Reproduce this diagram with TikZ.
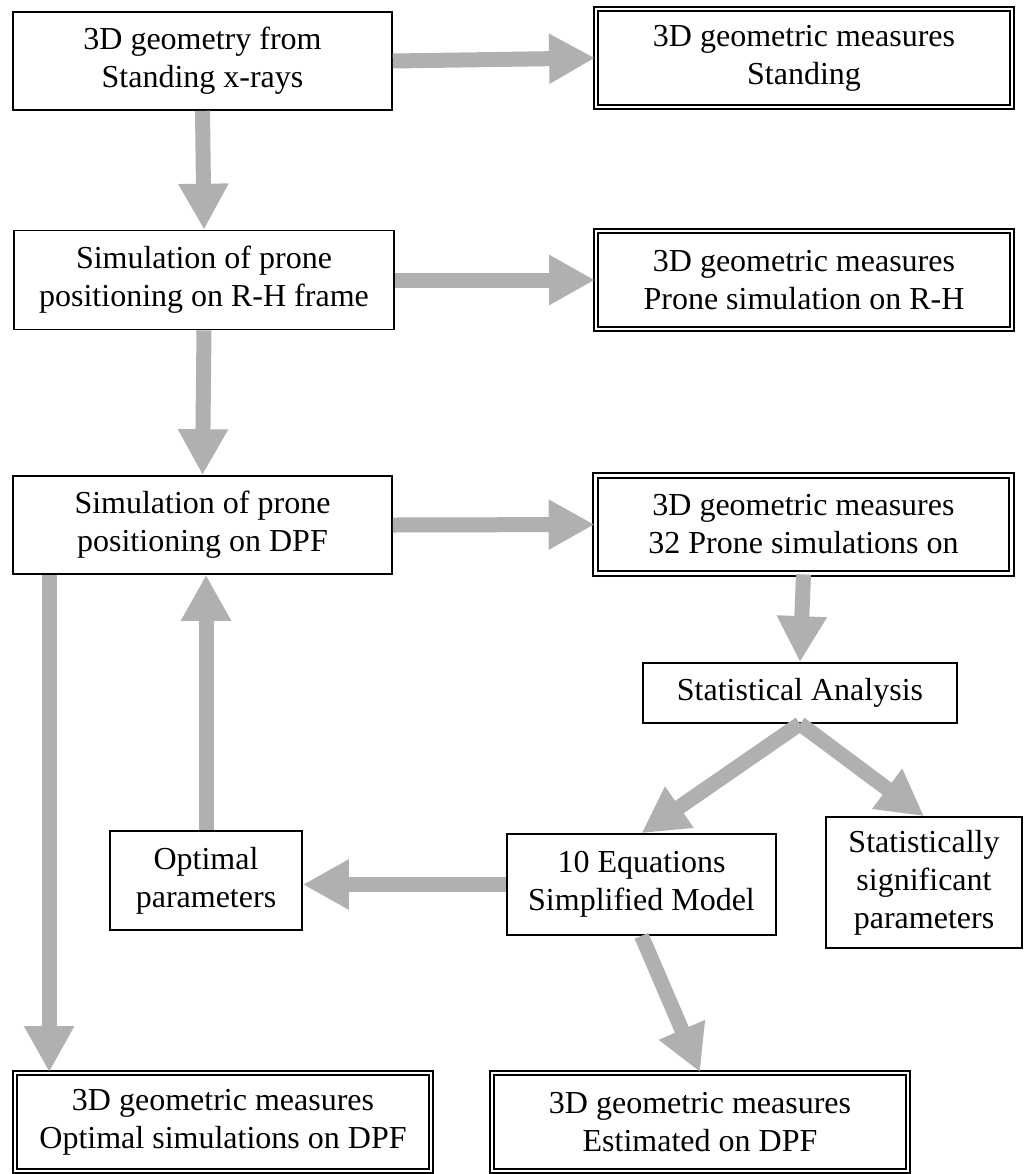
\documentclass[tikz,border=0pt]{standalone}
\usepackage{fontspec}
\setmainfont{Liberation Serif}
\usetikzlibrary{arrows.meta}

\tikzset{
  stepbox/.style={draw, line width=0.8pt, align=center, inner sep=0pt,
    font=\fontsize{16}{19}\selectfont},
  measurebox/.style={stepbox, double, double distance=1.3pt, line width=0.9pt,
    minimum width=208pt, minimum height=49pt},
  flowarrow/.style={line width=7.5pt, draw=gray!62,
    -{Triangle[width=23.5pt,length=23pt]}}
}

\begin{document}
\begin{tikzpicture}[x=0.5pt, y=-0.5pt]
      \useasboundingbox (0,0) rectangle (1028,1174);

      % Draw the left column of processing steps
      \node[stepbox, minimum width=189.5pt, minimum height=49pt] (geom) at (202.5,61)
        {3D geometry from\\Standing x-rays};
      \node[stepbox, minimum width=190pt, minimum height=49.5pt] (simrh) at (204,280)
        {Simulation of prone\\positioning on R-H frame};
      \node[stepbox, minimum width=189.5pt, minimum height=49pt] (simdpf) at (202.5,525)
        {Simulation of prone\\positioning on DPF};
      \node[stepbox, minimum width=96pt, minimum height=49.5pt] (optimal) at (206,880.5)
        {Optimal\\parameters};

      % Draw the measure boxes (double border)
      \node[measurebox] (standing) at (804,58) {3D geometric measures\\Standing};
      \node[measurebox] (measrh) at (804,280) {3D geometric measures\\Prone simulation on R-H};
      \node[measurebox] (measdpf) at (803.5,524.5) {3D geometric measures\\32 Prone simulations on};
      \node[measurebox] (measopt) at (223,1122) {3D geometric measures\\Optimal simulations on DPF};
      \node[measurebox] (measest) at (700,1122) {3D geometric measures\\Estimated on DPF};

      % Draw the analysis boxes
      \node[stepbox, minimum width=157pt, minimum height=30pt] (stats) at (800,693)
        {Statistical Analysis};
      \node[stepbox, minimum width=134.5pt, minimum height=50.5pt] (model) at (641.5,884.5)
        {10 Equations\\Simplified Model};
      \node[stepbox, minimum width=98pt, minimum height=65.5pt] (signif) at (924,882.5)
        {Statistically\\significant\\parameters};

      % Add the arrows between the boxes
      \draw[flowarrow] (geom.east) -- (standing.west);
      \draw[flowarrow] (geom.south) -- (simrh.north);
      \draw[flowarrow] (simrh.east) -- (measrh.west);
      \draw[flowarrow] (simrh.south) -- (simdpf.north);
      \draw[flowarrow] (simdpf.east) -- (measdpf.west);
      \draw[flowarrow] (measdpf.south) -- (stats.north);
      \draw[flowarrow] (stats.south) -- (model.north);
      \draw[flowarrow] (stats.south) -- (signif.north);
      \draw[flowarrow] (model.west) -- (optimal.east |- model.west);
      \draw[flowarrow] (optimal.north) -- (optimal.north |- simdpf.south);
      \draw[flowarrow] ([xshift=18.5pt]simdpf.south west)
        -- ([xshift=18.5pt]simdpf.south west |- measopt.north);
      \draw[flowarrow] (model.south) -- (measest.north);
    \end{tikzpicture}
\end{document}
